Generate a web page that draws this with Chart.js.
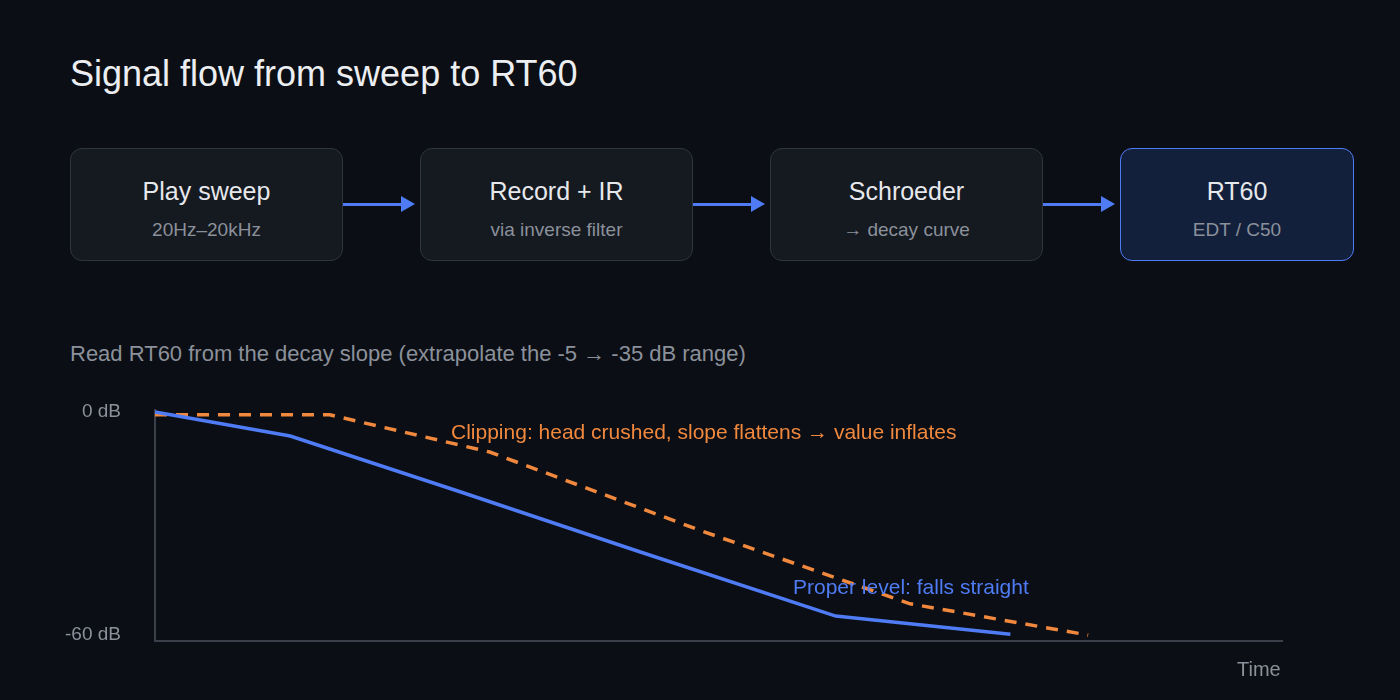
<!DOCTYPE html>
<html><head><meta charset="utf-8">
<script src="https://cdn.jsdelivr.net/npm/chart.js@4/dist/chart.umd.min.js"></script>
<style>
html,body{margin:0;padding:0;background:#0b0e14;width:1400px;height:700px;overflow:hidden;font-family:"Liberation Sans",Arial,sans-serif;}
#wrap{position:relative;width:1400px;height:700px;}
.t{position:absolute;white-space:nowrap;}
.box{position:absolute;top:148px;width:273px;height:113px;border:1.5px solid #30343d;border-radius:12px;background:#151920;box-sizing:border-box;text-align:center;}
.box .a{margin-top:28px;font-size:25px;color:#e6e8ec;}
.box .b{margin-top:13px;font-size:19px;color:#8b919b;}
.arrow{position:absolute;top:203px;height:3px;background:#4f7cf5;}
.arrow:after{content:"";position:absolute;right:-4px;top:-7px;border-left:14px solid #4f7cf5;border-top:8px solid transparent;border-bottom:8px solid transparent;}
canvas{position:absolute;left:0;top:0;}
</style></head><body><div id="wrap">
<div class="t" style="left:70px;top:53px;font-size:36px;color:#eceef2;">Signal flow from sweep to RT60</div>
<div class="box" style="left:70px;"><div class="a">Play sweep</div><div class="b">20Hz–20kHz</div></div>
<div class="box" style="left:420px;"><div class="a">Record + IR</div><div class="b">via inverse filter</div></div>
<div class="box" style="left:770px;"><div class="a">Schroeder</div><div class="b">→ decay curve</div></div>
<div class="box" style="left:1120px;width:234px;background:#13203b;border-color:#4f7cf5;"><div class="a">RT60</div><div class="b">EDT / C50</div></div>
<div class="arrow" style="left:343px;width:68px;"></div>
<div class="arrow" style="left:693px;width:68px;"></div>
<div class="arrow" style="left:1043px;width:68px;"></div>
<div class="t" style="left:70px;top:341px;font-size:22px;color:#8b919b;">Read RT60 from the decay slope (extrapolate the -5 → -35 dB range)</div>
<canvas id="c" width="1400" height="700"></canvas>
<div class="t" style="left:451px;top:420px;font-size:21px;color:#f0883e;">Clipping: head crushed, slope flattens → value inflates</div>
<div class="t" style="left:793px;top:575px;font-size:21px;color:#4f7cf5;">Proper level: falls straight</div>
<div class="t" style="left:1237px;top:658px;font-size:20px;color:#8b919b;">Time</div>
</div>
<script>
const properX=[0,0.12,0.27,0.43,0.604,0.759];
const properY=[0,-6.5,-21.4,-37.6,-54.9,-59.8];
const clipX=[0,0.155,0.297,0.484,0.67,0.828];
const clipY=[-0.8,-0.8,-10.8,-31.9,-51.6,-60];
const yTicks=[0,-60];
const yTickLabels={"0":"0 dB","-60":"-60 dB"};
const pts=(xs,ys)=>xs.map((x,i)=>({x:x,y:ys[i]}));
new Chart(document.getElementById('c'),{
 type:'line',
 data:{datasets:[
  {data:pts(properX,properY),borderColor:'#4f7cf5',borderWidth:3.5,pointRadius:0,tension:0},
  {data:pts(clipX,clipY),borderColor:'#f0883e',borderWidth:3.5,borderDash:[12,9],pointRadius:0,tension:0}
 ]},
 options:{responsive:false,animation:false,
  layout:{padding:{left:60,top:410,right:118,bottom:51}},
  plugins:{legend:{display:false},tooltip:{enabled:false}},
  scales:{
   x:{type:'linear',min:0,max:1,ticks:{display:false},grid:{display:false},border:{color:'#3a3f4a',width:2}},
   y:{min:-61.6,max:0.5,grid:{display:false},border:{color:'#3a3f4a',width:2},
      afterFit:s=>{s.width=95;},
      afterBuildTicks:s=>{s.ticks=yTicks.map(v=>({value:v}));},
      ticks:{color:'#8b919b',font:{size:19,family:'Liberation Sans'},padding:26,callback:v=>yTickLabels[String(v)]}}
  }}
});
</script></body></html>
